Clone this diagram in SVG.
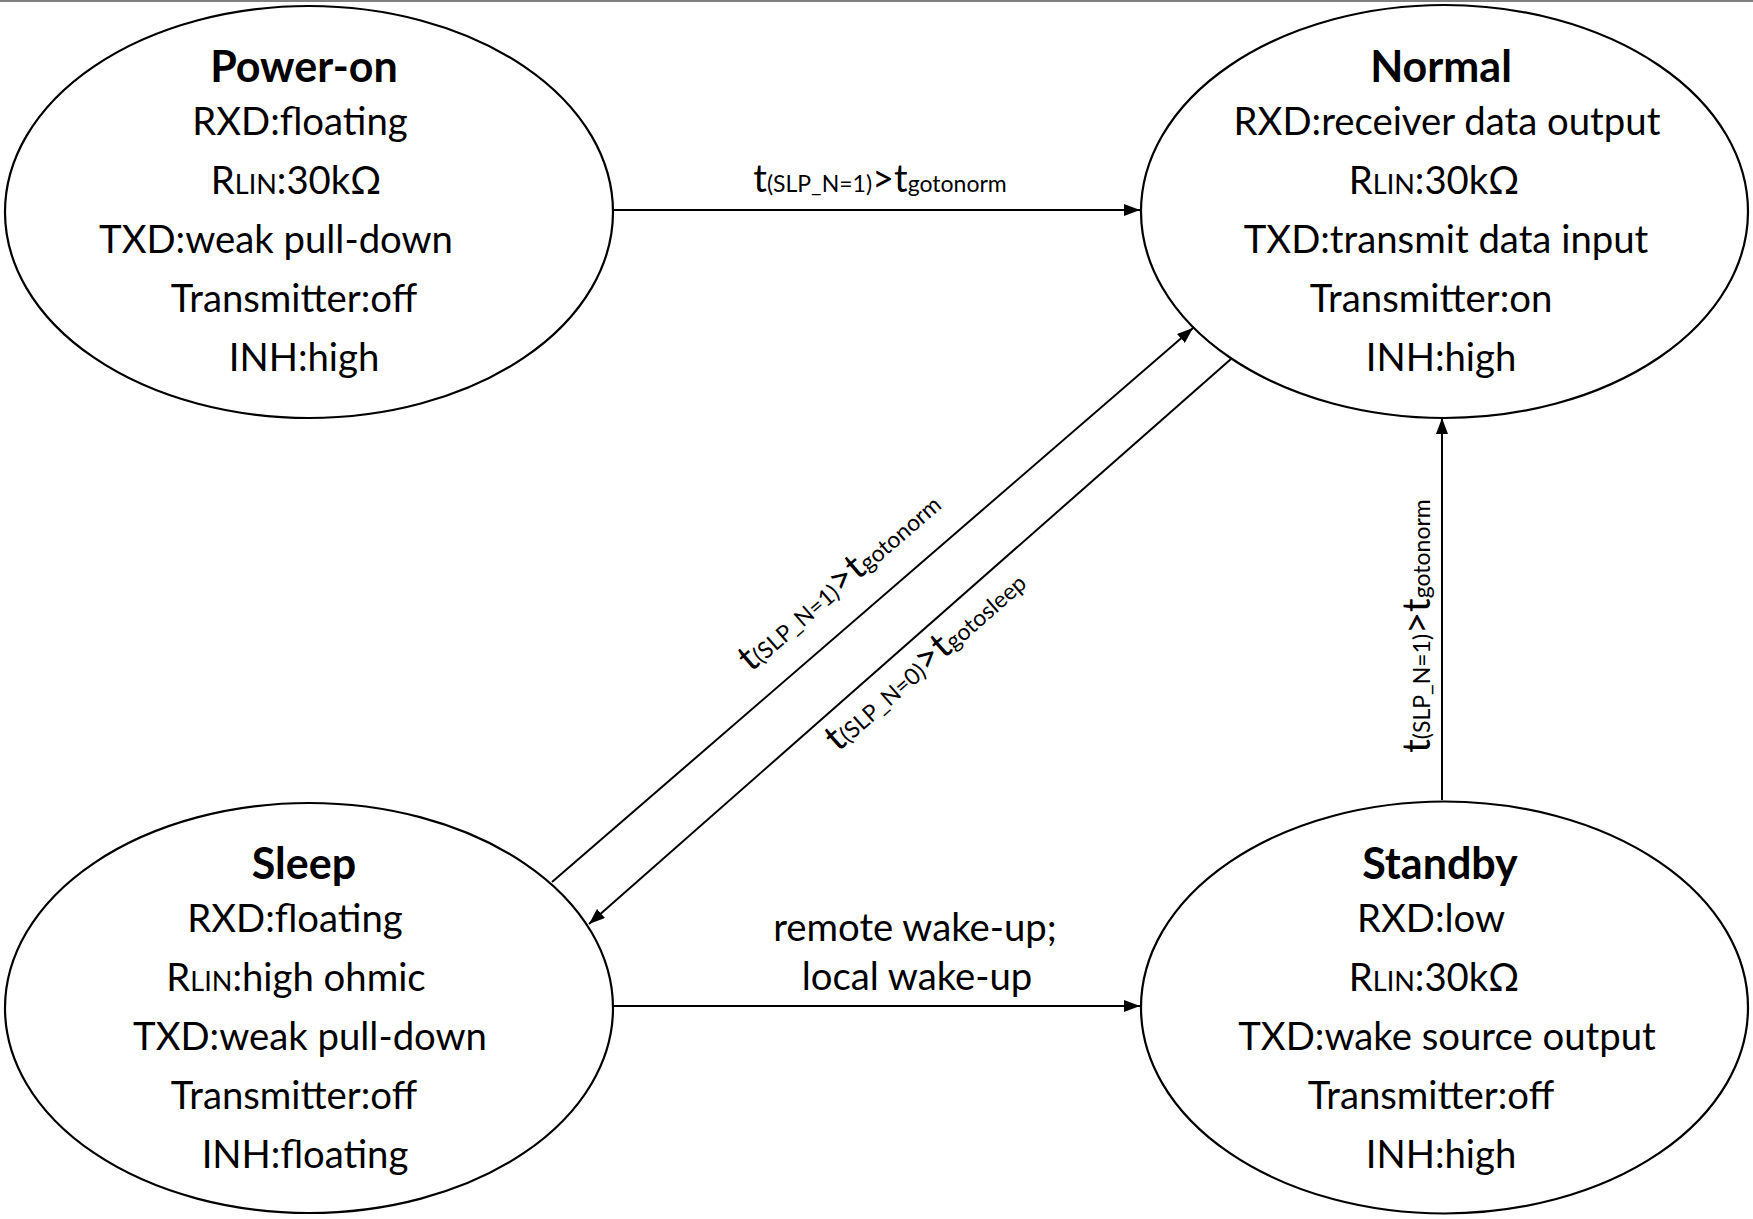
<svg xmlns="http://www.w3.org/2000/svg" width="1753" height="1219" viewBox="0 0 1753 1219">
<style>
.bg{fill:#ffffff}
.node{fill:#ffffff;stroke:#000000;stroke-width:2.2}
.t{font-family:Lato,"Liberation Sans",sans-serif;font-size:38.3px;fill:#000000;text-anchor:middle}
.h{font-weight:bold;font-size:43px}
.sc{font-size:27px}
.lbl{font-family:Lato,"Liberation Sans",sans-serif;fill:#000000;text-anchor:middle}
.big{font-size:38px}
.sub{font-size:23px}
.edge{fill:none;stroke:#000000;stroke-width:2}
</style>
<defs>
<marker id="arr" markerUnits="userSpaceOnUse" markerWidth="16" markerHeight="12" refX="16" refY="6" orient="auto">
<path d="M0,0 L16,6 L0,12 z" fill="#000000"/>
</marker>
</defs>
<rect class="bg" x="0" y="0" width="1753" height="1219"/>
<line x1="0" y1="1" x2="1753" y2="1" stroke="#808080" stroke-width="2"/>

<g id="power-on">
<ellipse class="node" cx="309" cy="212" rx="304" ry="206"/>
<text class="t h" x="304" y="82">Power-on</text>
<text class="t" x="300" y="135">RXD:floating</text>
<text class="t" x="296" y="194">R<tspan class="sc">LIN</tspan>:30kΩ</text>
<text class="t" x="276" y="253">TXD:weak pull-down</text>
<text class="t" x="294" y="312">Transmitter:off</text>
<text class="t" x="304" y="371">INH:high</text>
</g>

<g id="normal">
<ellipse class="node" cx="1444.5" cy="211.5" rx="303.5" ry="206.5"/>
<text class="t h" x="1441" y="82">Normal</text>
<text class="t" x="1447" y="135">RXD:receiver data output</text>
<text class="t" x="1434" y="194">R<tspan class="sc">LIN</tspan>:30kΩ</text>
<text class="t" x="1446" y="253">TXD:transmit data input</text>
<text class="t" x="1431" y="312">Transmitter:on</text>
<text class="t" x="1441" y="371">INH:high</text>
</g>

<g id="sleep">
<ellipse class="node" cx="309" cy="1008" rx="304" ry="205"/>
<text class="t h" x="304" y="879">Sleep</text>
<text class="t" x="295" y="932">RXD:floating</text>
<text class="t" x="296" y="991">R<tspan class="sc">LIN</tspan>:high ohmic</text>
<text class="t" x="310" y="1050">TXD:weak pull-down</text>
<text class="t" x="294" y="1109">Transmitter:off</text>
<text class="t" x="305" y="1168">INH:floating</text>
</g>

<g id="standby">
<ellipse class="node" cx="1444.5" cy="1007.5" rx="303.5" ry="206"/>
<text class="t h" x="1440" y="879">Standby</text>
<text class="t" x="1431" y="932">RXD:low</text>
<text class="t" x="1434" y="991">R<tspan class="sc">LIN</tspan>:30kΩ</text>
<text class="t" x="1447" y="1050">TXD:wake source output</text>
<text class="t" x="1431" y="1109">Transmitter:off</text>
<text class="t" x="1441" y="1168">INH:high</text>
</g>

<g id="connectors">
<line class="edge" x1="612" y1="210" x2="1140" y2="210" marker-end="url(#arr)"/>
<line class="edge" x1="552" y1="882" x2="1193" y2="328" marker-end="url(#arr)"/>
<line class="edge" x1="1231" y1="359" x2="589" y2="924" marker-end="url(#arr)"/>
<line class="edge" x1="1442" y1="800" x2="1442" y2="418" marker-end="url(#arr)"/>
<line class="edge" x1="612" y1="1006" x2="1140" y2="1006" marker-end="url(#arr)"/>

<text class="lbl" x="880" y="192"><tspan class="big">t</tspan><tspan class="sub">(SLP_N=1)</tspan><tspan class="big">&gt;t</tspan><tspan class="sub">gotonorm</tspan></text>
<text class="lbl" x="847" y="590" transform="rotate(-40.8 847 590)"><tspan class="big">t</tspan><tspan class="sub">(SLP_N=1)</tspan><tspan class="big">&gt;t</tspan><tspan class="sub">gotonorm</tspan></text>
<text class="lbl" x="933" y="669" transform="rotate(-41.3 933 669)"><tspan class="big">t</tspan><tspan class="sub">(SLP_N=0)</tspan><tspan class="big">&gt;t</tspan><tspan class="sub">gotosleep</tspan></text>
<text class="lbl" x="1430" y="626" transform="rotate(-90 1430 626)"><tspan class="big">t</tspan><tspan class="sub">(SLP_N=1)</tspan><tspan class="big">&gt;t</tspan><tspan class="sub">gotonorm</tspan></text>
<text class="t" x="915" y="941">remote wake-up;</text>
<text class="t" x="917" y="990">local wake-up</text>
</g>
</svg>
